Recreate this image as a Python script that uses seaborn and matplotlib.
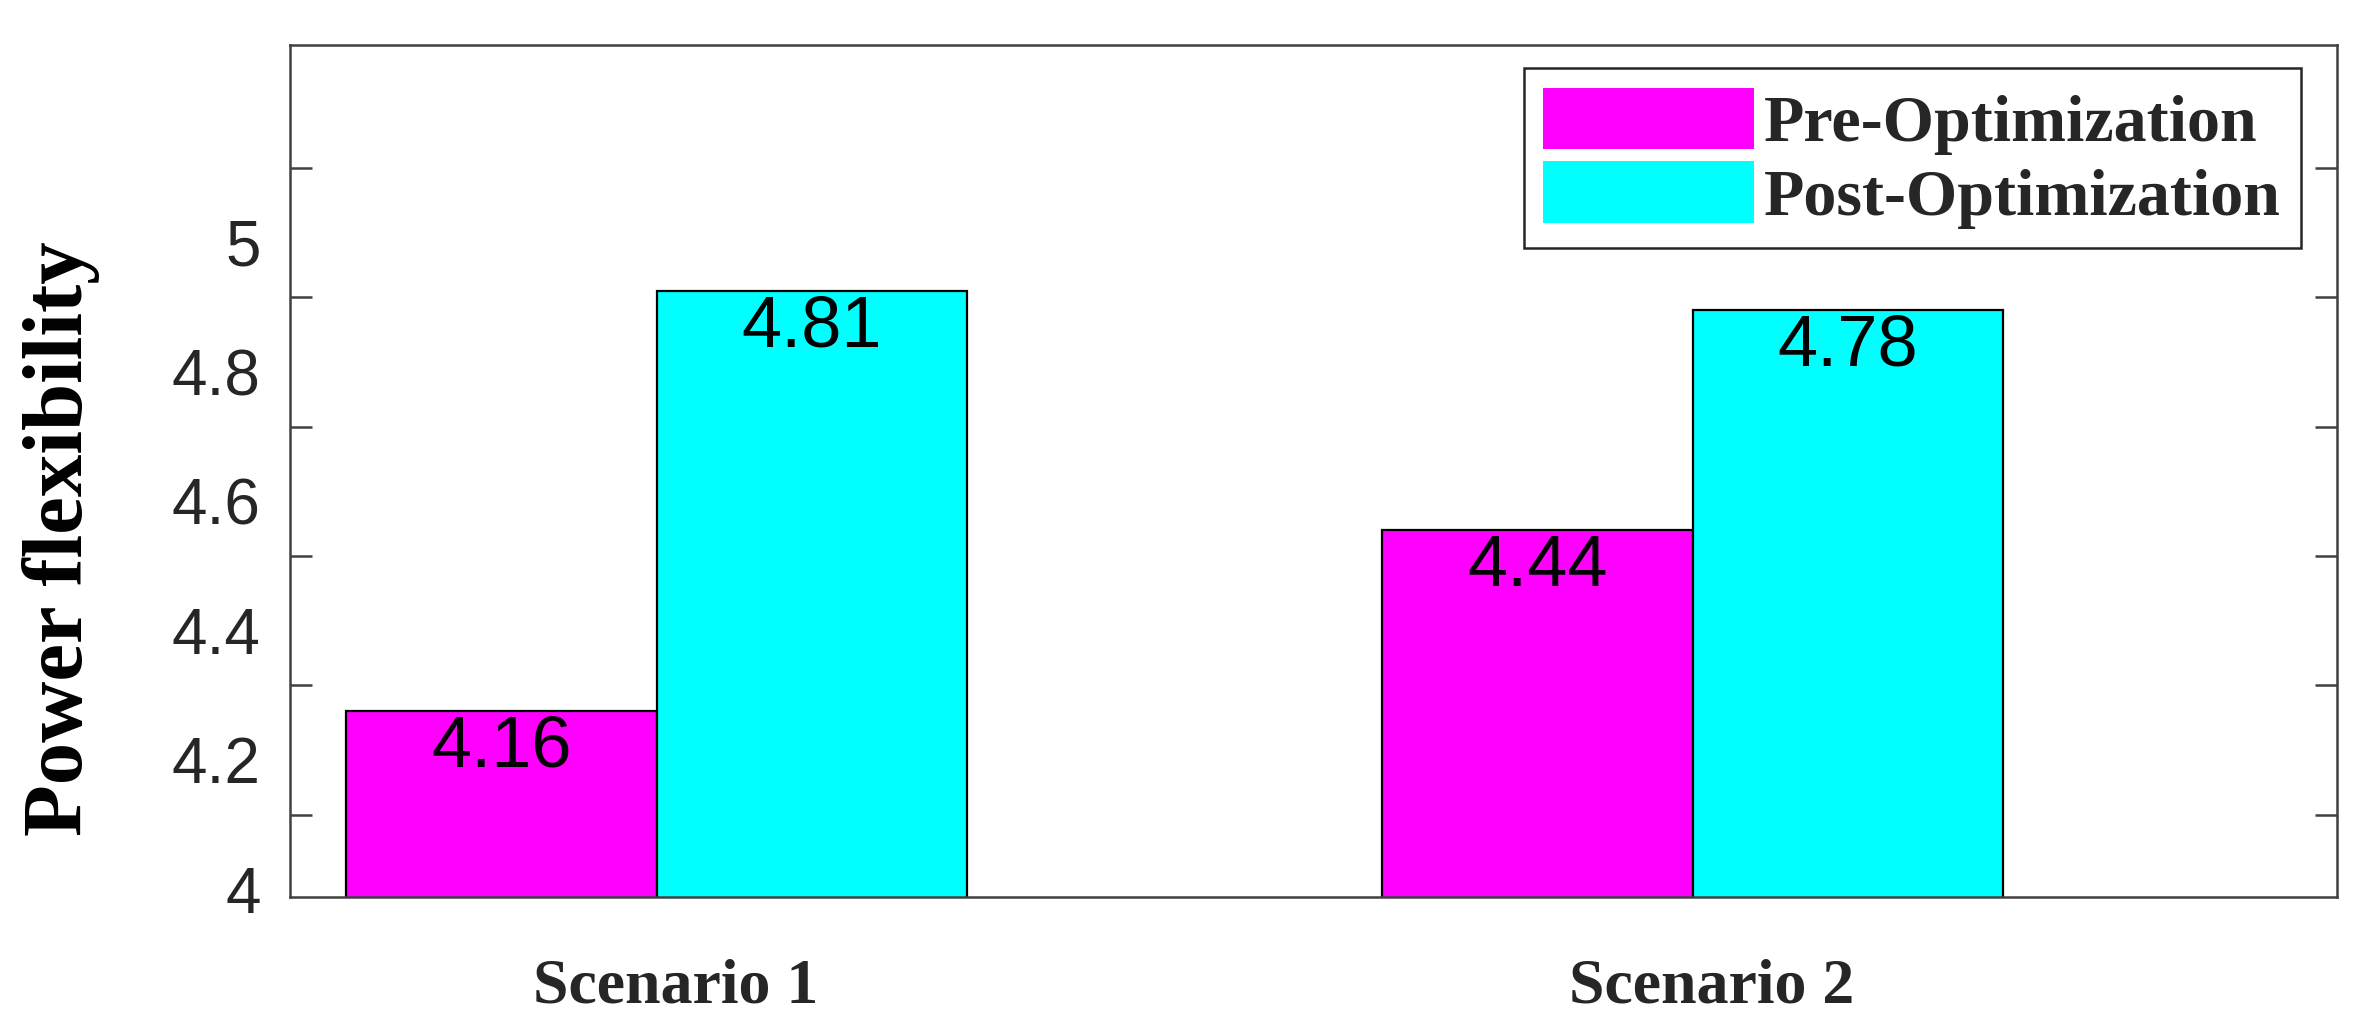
import pandas as pd
import matplotlib.pyplot as plt
import matplotlib.transforms as mtransforms
import seaborn as sns
import numpy as np

# Datos
escenarios = ['Scenario 1', 'Scenario 2']
series = ['Pre-Optimization', 'Post-Optimization']
pre_opt = [4.16, 4.44]
post_opt = [4.81, 4.78]
colores = ['#FF00FF', '#00FFFF']
yticks_vals = [4.0, 4.2, 4.4, 4.6, 4.8, 5.0]
yticks_txt = ['4', '4.2', '4.4', '4.6', '4.8', '5']

df = pd.DataFrame({
    'escenario': escenarios * 2,
    'serie': [series[0]] * 2 + [series[1]] * 2,
    'valor': pre_opt + post_opt,
})

sns.set_theme(style="white")
plt.rcParams['font.family'] = ['Liberation Sans', 'DejaVu Sans']

fig = plt.figure(figsize=(23.75, 10.32), dpi=100)
ax = fig.add_axes([0.1221, 0.1308, 0.8619, 0.8256])

sns.barplot(data=df, x='escenario', y='valor', hue='serie', palette=colores,
            width=0.6, edgecolor='black', linewidth=1.6, saturation=1, ax=ax)

ax.set_ylim(3.873, 5.19)
ax.set_xlim(-0.354, 1.622)

# Etiquetas de valor dentro de cada barra (parte superior)
for cont in ax.containers:
    for rect in cont:
        h = rect.get_height()
        ax.annotate(f'{h:.2f}', (rect.get_x() + rect.get_width() / 2, h),
                    xytext=(0, -2.5), textcoords='offset points',
                    ha='center', va='top', fontsize=52, color='black')

# Marcas del eje Y (ticks menores) y etiquetas desplazadas (ticks mayores)
desplazamiento = 0.115
ax.set_yticks(yticks_vals, minor=True)
ax.set_yticks([v - desplazamiento for v in yticks_vals])
ax.set_yticklabels(yticks_txt)
ax.tick_params(axis='y', which='major', length=0, pad=21, labelsize=46, labelcolor='#262626')
ax.tick_params(axis='y', which='minor', direction='in', length=16, width=1.8,
               color='#404040', left=True, right=True)

ax.tick_params(axis='x', which='both', length=0, pad=44)
desplaza_x = mtransforms.ScaledTranslation(0.19, 0, fig.dpi_scale_trans)
for lab in ax.get_xticklabels():
    lab.set_fontfamily('Liberation Serif')
    lab.set_fontweight('bold')
    lab.set_fontsize(46)
    lab.set_color('#262626')
    lab.set_transform(lab.get_transform() + desplaza_x)

ax.set_xlabel('')
ax.set_ylabel('Power flexibility', fontfamily='Liberation Serif', fontweight='bold',
              fontsize=61, color='black')
ax.yaxis.set_label_coords(-0.093, 0.421)

for s in ax.spines.values():
    s.set_color('#404040')
    s.set_linewidth(1.8)

# Leyenda
leg = ax.legend(loc='upper right', bbox_to_anchor=(0.9824, 0.973), borderaxespad=0,
                fancybox=False, edgecolor='#262626', framealpha=1,
                prop={'family': 'Liberation Serif', 'weight': 'bold', 'size': 47.5},
                handlelength=3.2, handleheight=1.05, handletextpad=0.15,
                labelspacing=0.1, borderpad=0.3)
leg.get_frame().set_linewidth(1.8)
for p in leg.get_patches():
    p.set_edgecolor('none')

fig.savefig('out.png', dpi=100)
